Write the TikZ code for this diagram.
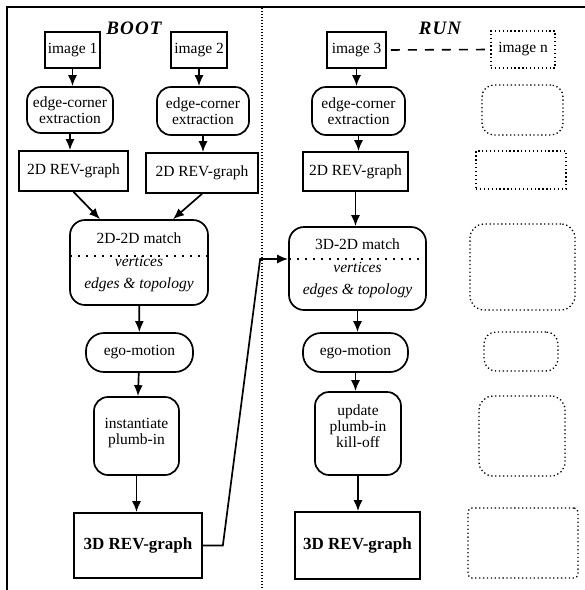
\documentclass[tikz,border=0pt]{standalone}
\usepackage{fontspec}
\setmainfont{Liberation Serif}
\usetikzlibrary{arrows.meta,calc}
\begin{document}
\begin{tikzpicture}[x=1pt,y=-1pt,
  box/.style={draw, line width=1.7pt, inner sep=0pt, align=center,
    font=\fontsize{15.5}{16}\selectfont},
  rbox/.style={box, rounded corners=14pt},
  bigbox/.style={box, font=\fontsize{17}{17}\selectfont\bfseries},
  matchbox/.style={box, rounded corners=15pt, font=\fontsize{15.5}{22}\selectfont},
  ghost/.style={draw, line width=1.3pt, dash pattern=on 1.3pt off 2.6pt, inner sep=0pt},
  arr/.style={line width=1.7pt, -{Latex[length=11pt,width=9pt]}},
  sepline/.style={line width=2pt, dash pattern=on 1.8pt off 6.2pt},
  title/.style={font=\fontsize{19}{19}\selectfont\bfseries\itshape\addfontfeature{LetterSpace=6}},
]
\useasboundingbox (0,0) rectangle (585,590);
% frame and divider
\draw[line width=1.8pt] (7,590) -- (7,7) -- (585,7);
\draw[line width=2.2pt, dash pattern=on 1.4pt off 1.6pt] (262,8) -- (262,590);

% titles
\node[title] (boot) at (134,28) {BOOT};
\node[title] (run) at (440,28) {RUN};

% BOOT column
\node[box, minimum width=55pt, minimum height=36pt] (img1) at (72.5,50) {image 1};
\node[box, minimum width=56pt, minimum height=36pt] (img2) at (199,50) {image 2};
\node[rbox, minimum width=86pt, minimum height=46pt] (ec1) at (70,110) {edge-corner\\extraction};
\node[rbox, minimum width=92pt, minimum height=48pt] (ec2) at (203,111) {edge-corner\\extraction};
\node[box, minimum width=109pt, minimum height=40pt] (rev1) at (73.5,171) {2D REV-graph};
\node[box, minimum width=112pt, minimum height=40pt] (rev2) at (202,173) {2D REV-graph};
\node[matchbox, minimum width=138pt, minimum height=85pt] (m1) at (139,262.5)
  {2D-2D match\\[1pt]\textit{vertices}\\\textit{edges \& topology}};
\node[rbox, rounded corners=18pt, minimum width=107pt, minimum height=39pt] (ego1) at (139.5,352.5) {ego-motion};
\node[rbox, minimum width=85pt, minimum height=78pt, text depth=9pt] (inst) at (136.5,436) {instantiate\\plumb-in};
\node[bigbox, minimum width=128pt, minimum height=65pt] (big1) at (138,545.5) {3D REV-graph};

% RUN column
\node[box, minimum width=59pt, minimum height=36pt] (img3) at (356.5,50) {image 3};
\node[rbox, minimum width=93pt, minimum height=48pt] (ec3) at (358.5,111) {edge-corner\\extraction};
\node[box, minimum width=105pt, minimum height=39pt] (rev3) at (355.5,171.5) {2D REV-graph};
\node[matchbox, minimum width=137pt, minimum height=83pt] (m2) at (357.5,268.5)
  {3D-2D match\\[1pt]\textit{vertices}\\\textit{edges \& topology}};
\node[rbox, rounded corners=18pt, minimum width=105pt, minimum height=39pt] (ego2) at (355.5,352.5) {ego-motion};
\node[rbox, minimum width=86pt, minimum height=83pt, text depth=15pt] (upd) at (358,433.5) {update\\plumb-in\\kill-off};
\node[bigbox, minimum width=125pt, minimum height=67pt] (big2) at (357.5,545.5) {3D REV-graph};

% ghost column
\node[box, ghost, minimum width=64pt, minimum height=37pt] (imgn) at (523,49.5) {image n};
\node[ghost, rounded corners=12pt, minimum width=81pt, minimum height=50pt] (g1) at (522.5,110) {};
\node[ghost, minimum width=90pt, minimum height=38pt] (g2) at (521,170) {};
\node[ghost, rounded corners=14pt, minimum width=105pt, minimum height=86pt] (g3) at (522.5,267) {};
\node[ghost, rounded corners=12pt, minimum width=74pt, minimum height=39pt] (g4) at (521,351.5) {};
\node[ghost, rounded corners=14pt, minimum width=86pt, minimum height=80pt] (g5) at (522,436) {};
\node[ghost, rounded corners=4pt, minimum width=110pt, minimum height=70pt] (g6) at (523,543) {};

% separator lines inside match boxes
\draw[sepline] ($(m1.west)+(1,-6.5)$) -- ($(m1.east)+(0,-6.5)$);
\draw[sepline] ($(m2.west)+(1,-9.5)$) -- ($(m2.east)+(0,-9.5)$);

% arrows BOOT
\draw[arr] (img1) -- (ec1.north -| img1);
\draw[arr] (ec1) -- (rev1.north -| ec1);
\draw[arr] (img2) -- (ec2.north -| img2);
\draw[arr] (ec2) -- (rev2.north -| ec2);
\draw[arr] (rev1.south) -- ($(m1.north)+(-39,0)$);
\draw[arr] (rev2.south) -- ($(m1.north)+(34,0)$);
\draw[arr] (m1) -- (ego1);
\draw[arr] (ego1) -- (inst);
\draw[arr] (inst) -- (big1.north -| inst);

% arrows RUN
\draw[arr] (img3) -- (ec3.north -| img3);
\draw[arr] (ec3) -- (rev3.north -| ec3);
\draw[arr] (rev3) -- (m2.north -| rev3);
\draw[arr] (m2) -- (ego2.north -| m2);
\draw[arr] (ego2) -- (upd.north -| ego2);
\draw[arr] (upd) -- (big2.north -| upd);

% BOOT -> RUN link
\coordinate (k1) at ($(big1.east)+(20,0)$);
\coordinate (k2) at ($(m2.west)+(-28,-9.5)$);
\draw[arr] (big1.east) -- (k1) -- (k2) -- ($(m2.west)+(0,-9.5)$);

% dashed link to image n
\draw[line width=1.6pt, dash pattern=on 9pt off 8pt, dash phase=-4pt] (img3.east) -- (imgn.west);
\end{tikzpicture}
\end{document}
